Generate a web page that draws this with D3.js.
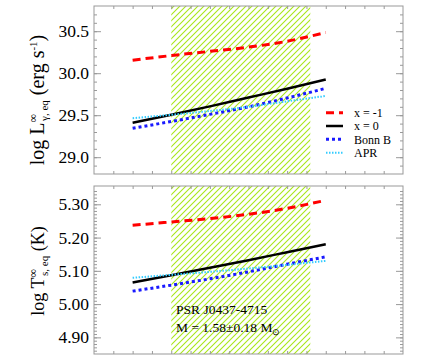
<!DOCTYPE html>
<html>
<head>
<meta charset="utf-8">
<script src="https://cdn.jsdelivr.net/npm/d3@7"></script>
<style>
body { margin: 0; background: #fff; }
text { font-family: "Liberation Serif", "Times New Roman", serif; fill: #000; }
</style>
</head>
<body>
<div id="chart"></div>
<script>
var mass = [1.3, 1.4, 1.5, 1.6, 1.7, 1.8];
var lum_xm1 = [30.155, 30.21, 30.26, 30.31, 30.38, 30.485];
var lum_x0 = [29.41, 29.505, 29.605, 29.71, 29.815, 29.925];
var lum_bonn = [29.345, 29.425, 29.51, 29.6, 29.705, 29.82];
var lum_apr = [29.465, 29.505, 29.55, 29.6, 29.665, 29.73];
var temp_xm1 = [5.237, 5.247, 5.257, 5.27, 5.288, 5.312];
var temp_x0 = [5.065, 5.087, 5.109, 5.132, 5.156, 5.18];
var temp_bonn = [5.039, 5.057, 5.076, 5.097, 5.12, 5.142];
var temp_apr = [5.079, 5.088, 5.097, 5.107, 5.118, 5.13];
var series_names = ["x = -1", "x = 0", "Bonn B", "APR"];
var lum_ticks = [29.0, 29.5, 30.0, 30.5];
var temp_ticks = [4.90, 5.00, 5.10, 5.20, 5.30];
var psr_mass = 1.58, psr_err = 0.18;

var styles = [
    {color: "#ff0000", width: 3, dash: "8,5"},
    {color: "#000000", width: 2.5, dash: null},
    {color: "#1a1aff", width: 3, dash: "3,3"},
    {color: "#33ccff", width: 2, dash: "1.5,1.5"}
];

var svg = d3.select("#chart").append("svg")
    .attr("width", 431).attr("height", 360);
svg.append("rect").attr("width", 431).attr("height", 360).attr("fill", "#fff");

var defs = svg.append("defs");
var pat = defs.append("pattern")
    .attr("id", "hatch")
    .attr("patternUnits", "userSpaceOnUse")
    .attr("width", 6).attr("height", 6);
pat.append("path")
    .attr("d", "M0,6 L6,0 M-1,1 L1,-1 M5,7 L7,5")
    .attr("stroke", "#a8e61a").attr("stroke-width", 1.1);

var x = d3.scaleLinear([1.2, 2.0], [94, 403]);
var frame = "#999";

function panel(y, series, major, minor, fmt) {
    var g = svg.append("g");
    var y0 = y.range()[0], y1 = y.range()[1];
    g.append("rect")
	.attr("x", x(psr_mass - psr_err)).attr("y", y1)
	.attr("width", x(psr_mass + psr_err) - x(psr_mass - psr_err))
	.attr("height", y0 - y1)
	.attr("fill", "url(#hatch)");

    var xt = d3.range(1.25, 1.999, 0.05);
    g.append("g").attr("transform", "translate(0," + y0 + ")")
	.call(d3.axisBottom(x).tickValues(xt).tickSize(-3).tickFormat(""));
    g.append("g").attr("transform", "translate(0," + y1 + ")")
	.call(d3.axisTop(x).tickValues(xt).tickSize(-3).tickFormat(""));
    g.append("g").attr("transform", "translate(94,0)")
	.call(d3.axisLeft(y).tickValues(minor).tickSize(-3).tickFormat(""));
    g.append("g").attr("transform", "translate(403,0)")
	.call(d3.axisRight(y).tickValues(minor).tickSize(-3).tickFormat(""));
    g.append("g").attr("transform", "translate(403,0)")
	.call(d3.axisRight(y).tickValues(major).tickSize(-7).tickFormat(""));
    g.append("g").attr("class", "ylab").attr("transform", "translate(94,0)")
	.call(d3.axisLeft(y).tickValues(major).tickSize(-7).tickPadding(5).tickFormat(fmt));
    g.selectAll(".domain").remove();
    g.selectAll(".tick line").attr("stroke", frame);
    g.selectAll(".ylab text")
	.style("font-family", "Liberation Serif")
	.style("font-size", "17.5px")
	.attr("fill", "#000");

    g.append("rect")
	.attr("x", 94).attr("y", y1)
	.attr("width", 403 - 94).attr("height", y0 - y1)
	.attr("fill", "none").attr("stroke", frame);

    var line = d3.line().curve(d3.curveMonotoneX)
	.x((d, i) => x(mass[i])).y(d => y(d));
    series.forEach((s, i) => {
	g.append("path")
	    .attr("d", line(s))
	    .attr("fill", "none")
	    .attr("stroke", styles[i].color)
	    .attr("stroke-width", styles[i].width)
	    .attr("stroke-dasharray", styles[i].dash);
    });
    return g;
}

var ylum = d3.scaleLinear([28.8, 30.8], [174, 6]);
var ytemp = d3.scaleLinear([4.85, 5.355], [354, 186]);

var top_panel = panel(ylum, [lum_xm1, lum_x0, lum_bonn, lum_apr], lum_ticks,
		      d3.range(28.9, 30.75, 0.1), d3.format(".1f"));
var bot_panel = panel(ytemp, [temp_xm1, temp_x0, temp_bonn, temp_apr], temp_ticks,
		      d3.range(4.86, 5.35, 0.01), d3.format(".2f"));

// legend
var leg_y = [112.7, 126, 139.3, 152.7];
series_names.forEach((name, i) => {
    top_panel.append("line")
	.attr("x1", 326).attr("x2", 343)
	.attr("y1", leg_y[i]).attr("y2", leg_y[i])
	.attr("stroke", styles[i].color)
	.attr("stroke-width", styles[i].width)
	.attr("stroke-dasharray", styles[i].dash);
    top_panel.append("text")
	.attr("x", 354).attr("y", leg_y[i] + 4.2)
	.style("font-size", "12px")
	.text(name);
});

// axis titles
var t1 = svg.append("text")
    .attr("transform", "translate(44,100) rotate(-90)")
    .attr("text-anchor", "middle")
    .style("font-size", "20px");
t1.append("tspan").text("log L");
t1.append("tspan").attr("dy", -7).style("font-size", "12px").text("\u221e");
t1.append("tspan").attr("dx", -7).attr("dy", 11).style("font-size", "11px").text("\u03b3, eq");
t1.append("tspan").attr("dy", -4).text(" (erg s");
t1.append("tspan").attr("dy", -7).style("font-size", "11px").text("-1");
t1.append("tspan").attr("dy", 7).text(")");

var t2 = svg.append("text")
    .attr("transform", "translate(44,271) rotate(-90)")
    .attr("text-anchor", "middle")
    .style("font-size", "18px");
t2.append("tspan").text("log T");
t2.append("tspan").attr("dy", -7).style("font-size", "12px").text("\u221e");
t2.append("tspan").attr("dx", -7).attr("dy", 11).style("font-size", "11px").text("s, eq");
t2.append("tspan").attr("dy", -4).text(" (K)");

// annotation
bot_panel.append("text")
    .attr("x", 176).attr("y", 313.5)
    .style("font-size", "13.5px")
    .text("PSR J0437-4715");
var ann = bot_panel.append("text")
    .attr("x", 176).attr("y", 332)
    .style("font-size", "13.5px");
ann.append("tspan").text("M = " + psr_mass.toFixed(2) + "\u00b1" + psr_err.toFixed(2) + " M");
ann.append("tspan").attr("dy", 3).style("font-size", "9px").text("\u2299");
</script>
</body>
</html>
